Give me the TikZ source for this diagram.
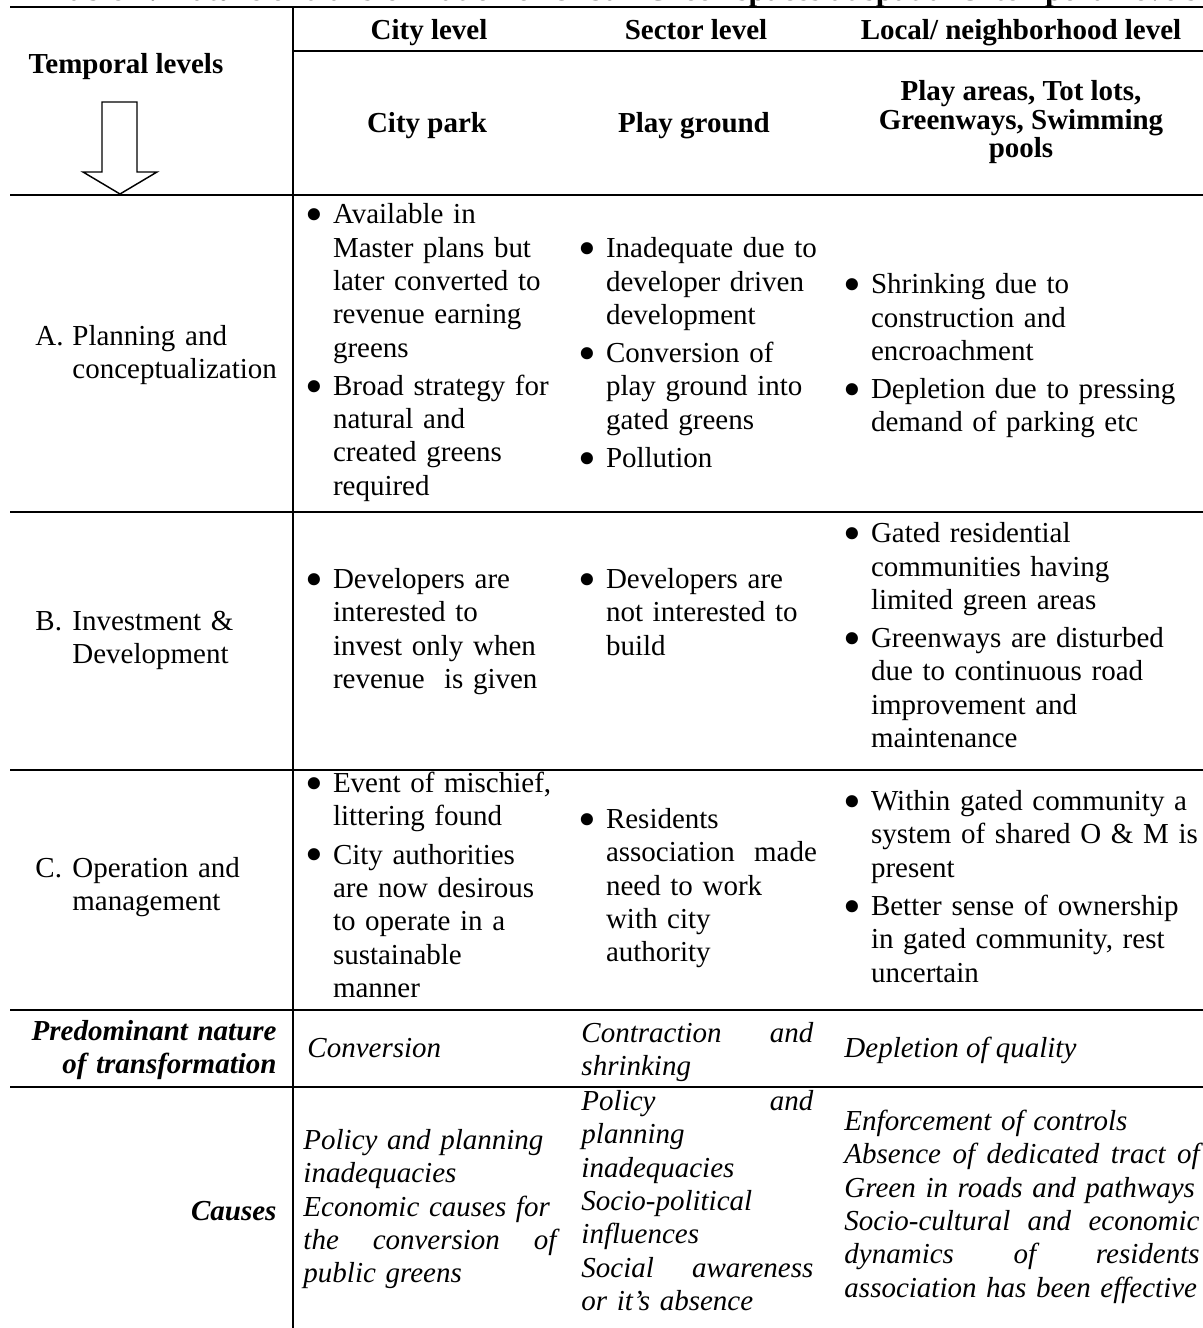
\documentclass[tikz,border=0pt]{standalone}
\usepackage{fontspec}
\usepackage{graphicx}
\setmainfont{Liberation Serif}
\usetikzlibrary{calc}

\newcommand{\cellfont}{\fontsize{12}{13.8}\selectfont\parindent=0pt\parskip=2pt}
\newcommand{\hdfont}{\fontsize{12}{11.8}\selectfont\bfseries}
\newcommand{\bul}{\raisebox{-3.3pt}{\scalebox{1.75}{\textbullet}}}
\newcommand{\bitem}{\leavevmode\leftskip=11.4pt\relax\llap{\hbox to 11.4pt{\bul\hss}}\strut}
\newcommand{\lbl}[1]{\leavevmode\leftskip=15.3pt\relax\llap{\hbox to 15.3pt{#1\hss}}\strut}
\newcommand{\jline}[2]{\leavevmode\hbox to #1{\spaceskip=0.25em plus 1fil\relax#2}}

\begin{document}
\begin{tikzpicture}[
  x=0.414pt,y=-0.414pt,
  rule/.style ={line width=0.9pt},
  hd/.style   ={anchor=base,inner sep=0pt,font=\hdfont},
  cell/.style ={anchor=north west,inner sep=0pt,font=\cellfont},
  itcell/.style={anchor=north west,inner sep=0pt,font=\cellfont\itshape},
  itline/.style={anchor=base west,inner sep=0pt,font=\cellfont\itshape},
  bicell/.style={inner sep=0pt,font=\cellfont\bfseries\itshape}
]
\useasboundingbox (0,0) rectangle (1203,1328);

% title, cut at the top edge
\begin{scope}
\clip (0,0) rectangle (1203,1328);
\node[anchor=base west,inner sep=0pt,font=\fontsize{13}{15}\selectfont\bfseries](title) at (50,0.5)
  {Table 1: Nature of transformation of Urban Green spaces at spatial \& temporal levels};
\end{scope}

% rules
\draw[rule](10,7)--(1203,7);
\draw[rule](293,51)--(1203,51);
\foreach \y in {195,512,770,1010,1087} \draw[rule](10,\y)--(1203,\y);
\draw[rule](293,7)--(293,1328);

% header
\node[hd](tl) at (126,73){Temporal levels};
\draw[line width=0.6pt,fill=white](102,102)--(137,102)--(137,172)--(157,172)
  --(120,194)--(83,172)--(102,172)--cycle;
\node[hd](h1) at (429,40){City level};
\node[hd](h2) at (696,40){Sector level};
\node[hd](h3) at (1021,40){Local/ neighborhood level};
\node[hd](t1) at (427,132){City park};
\node[hd](t2) at (694,132){Play ground};
\node[hd,anchor=north,align=center](t3) at (1021,80){Play areas, Tot lots,\\Greenways, Swimming\\pools};

% A. planning
\node[cell,text width=110pt](a0) at (35,321.7){\lbl{A.}Planning and\\conceptualization\par};
\node[cell,text width=115pt](a1) at (305,200){%
  \bitem Available in\\Master plans but\\later converted to\\revenue earning\\greens
  \par\bitem Broad strategy for\\natural and\\created greens\\required\par};
\node[cell,text width=104pt](a2) at (578,234){%
  \bitem Inadequate due to\\developer driven\\development
  \par\bitem Conversion of\\play ground into\\gated greens
  \par\bitem Pollution\par};
\node[cell,text width=150pt](a3) at (843,270){%
  \bitem Shrinking due to\\construction and\\encroachment
  \par\bitem Depletion due to pressing\\demand of parking etc\par};

% B. investment
\node[cell,text width=110pt](b0) at (35,606.7){\lbl{B.}Investment \&\\Development\par};
\node[cell,text width=115pt](b1) at (305,564.7){%
  \bitem Developers are\\interested to\\invest only when\\revenue\ \ is given\par};
\node[cell,text width=104pt](b2) at (578,564.7){%
  \bitem Developers are\\not interested to\\build\par};
\node[cell,text width=150pt](b3) at (843,519){%
  \bitem Gated residential\\communities having\\limited green areas
  \par\bitem Greenways are disturbed\\due to continuous road\\improvement and\\maintenance\par};

% C. operation
\node[cell,text width=110pt](c0) at (35,853.7){\lbl{C.}Operation and\\management\par};
\node[cell,text width=115pt](c1) at (305,768.7){%
  \bitem Event of mischief,\\littering found
  \par\bitem City authorities\\are now desirous\\to operate in a\\sustainable\\manner\par};
\node[cell,text width=104pt](c2) at (578,804.7){%
  \bitem Residents\\association\ \ made\\need to work\\with city\\authority\par};
\node[cell,text width=150pt](c3) at (843,786.7){%
  \bitem Within gated community a\\system of shared O \& M is\\present
  \par\bitem Better sense of ownership\\in gated community, rest\\uncertain\par};

% predominant nature
\node[bicell,anchor=north east,text width=110pt,align=right](n0) at (277,1016.7)
  {\strut Predominant nature\\of transformation};
\node[itline](n1) at (307,1057){Conversion};
\node[itcell,text width=100pt](n2) at (581,1018.7){\jline{96pt}{\strut Contraction and}\\shrinking};
\node[itline](n3) at (844,1057){Depletion of quality};

% causes
\node[bicell,anchor=base east](k0) at (277,1220){Causes};
\node[itcell,text width=110pt](k1) at (303,1125.7){%
  \strut Policy and planning\\inadequacies\\Economic causes for\\\jline{104.7pt}{the conversion of}\\public greens};
\node[itcell,text width=100pt](k2) at (581,1086.7){%
  \jline{96pt}{\strut Policy and}\\planning\\inadequacies\\Socio-political\\influences\\\jline{96pt}{Social awareness}\\or it's absence};
\node[itcell,text width=150pt](k3) at (844,1106.7){%
  \strut Enforcement of controls\\\jline{147pt}{Absence of dedicated tract of}\\Green in roads and pathways\\\jline{147pt}{Socio-cultural and economic}\\\jline{147pt}{dynamics of residents}\\association has been effective};
\end{tikzpicture}
\end{document}
